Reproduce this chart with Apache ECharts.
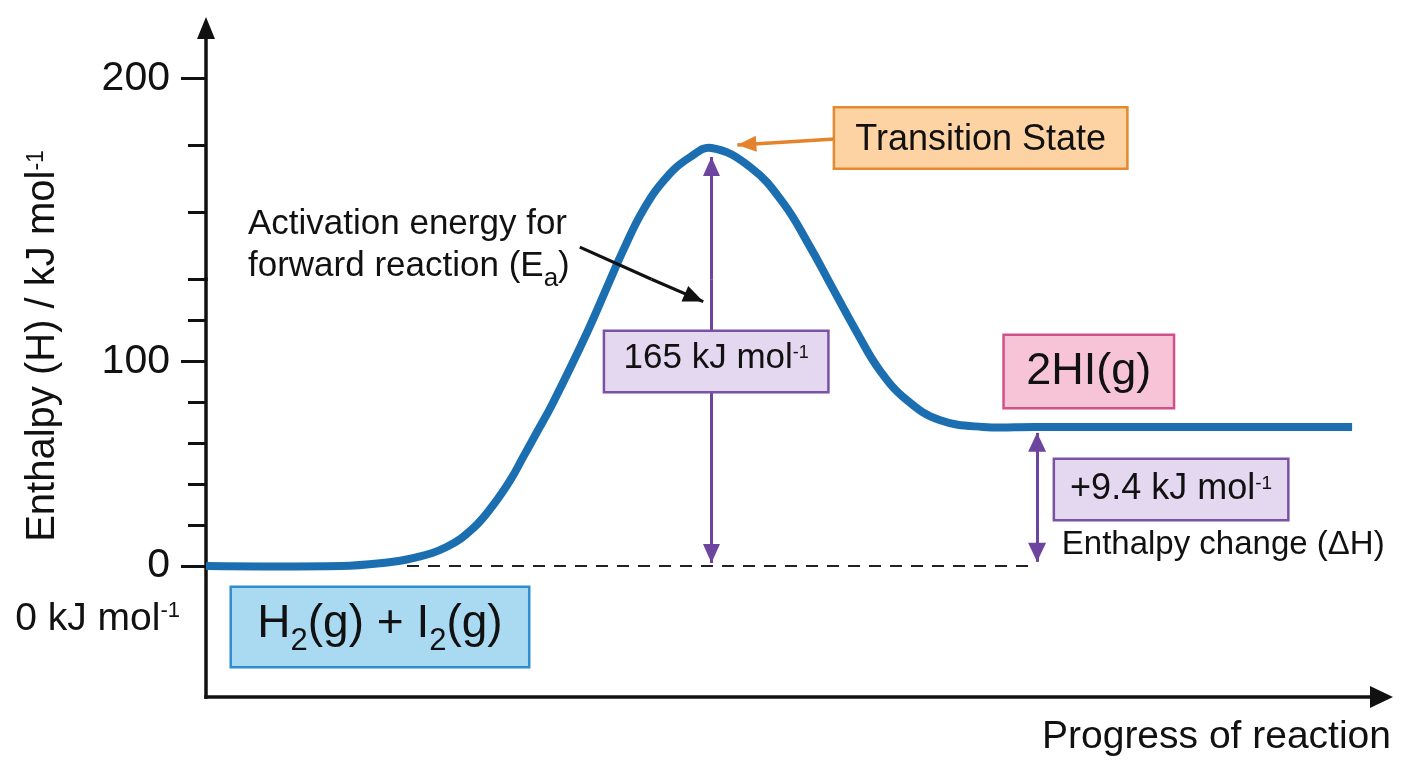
<!DOCTYPE html>
<html>
<head>
<meta charset="utf-8">
<script src="https://cdn.jsdelivr.net/npm/echarts@6/dist/echarts.min.js"></script>
<style>
html,body{margin:0;padding:0;background:#ffffff;}
#c{width:1408px;height:768px;}
</style>
</head>
<body>
<div id="c"></div>
<script>
// ===================== DATA =====================
// Reaction progress (arbitrary 0-100 scale) and enthalpy on the drawn axis (kJ/mol)
const progress = [0, 11.5, 14.8, 17.6, 20.5, 22.7, 24.4, 25.9, 27.0, 28.1, 29.5, 32.4, 34.4, 35.5, 37.2, 39.2, 41.2, 43.0, 46.3, 49.1, 51.4, 52.9, 55.4, 57.3, 59.6, 62.4, 66.1, 70.4, 97.5];
const enthalpy = [0, 0, 1.3, 3.8, 9.4, 18.3, 29.5, 42.0, 53.4, 64.8, 79.5, 113.8, 140, 148.7, 160.7, 170.5, 176.5, 179.2, 173.5, 162.8, 149.6, 140, 113.8, 95.7, 81.1, 71.3, 67.9, 67.9, 67.9];

// The drawn enthalpy axis is not uniform: 0-140 and 140-200 use different spacings,
// so it is drawn as two stacked axis segments meeting at axisSeam.
const axisSeam = 140;
const lowerAxisRange = [-64, 140];
const upperAxisRange = [140, 215];
const progressRange = [0, 100];

// Tick marks and tick labels
const minorTicksLower = [20, 40, 60, 80, 120, 140];
const majorTicksLower = [0, 100];
const minorTicksUpper = [160, 180];
const majorTicksUpper = [200];
const tickLabelsLower = [0, 100];
const tickLabelsUpper = [200];
const zeroLevelLabelValue = -26;          // "0 kJ mol-1" note below the 0 tick

// Annotation arrows (data coordinates)
const eaArrowX = 43.0, eaArrowFrom = 1.5, eaArrowTo = 176.5;      // 165 kJ/mol double arrow
const dhArrowX = 70.7, dhArrowFrom = 2.0, dhArrowTo = 65.0;      // +9.4 kJ/mol double arrow
const dashedLevel = 0, dashedFrom = 17.1, dashedTo = 70.7;        // reactant level reference line
const eaPointerFrom = [31.8, 149.6], eaPointerSeam = [37.9, 140], eaPointerTo = [42.3, 129.1]; // "Activation energy" pointer
const tsPointerFrom = [53.5, 181.9], tsPointerTo = [45.2, 180.1];  // "Transition State" pointer

// Annotation label anchors (data coordinates)
const tsLabelAt = [65.9, 182.2];
const eaValueLabelAt = [43.4, 99.9];
const productLabelAt = [75.1, 95.0];
const dhValueLabelAt = [82.1, 37.4];
const reactantLabelAt = [14.8, -29.8];
const dhTextAt = [72.8, 10.1];
const eaTextAt = [3.57, 150.1];

// ===================== STYLE =====================
const FONT = 'Liberation Sans';
const INK = '#111111';
const BLUE = '#1b6fb1';
const PURPLE = '#6d459e';
const ORANGE = '#e4832b';

const chart = echarts.init(document.getElementById('c'), null, {renderer: 'canvas'});
const curve = progress.map((x, i) => [x, enthalpy[i]]);

const noBorder = {textBorderWidth: 0, textBorderColor: 'transparent', textShadowBlur: 0};
const tok = (o) => Object.assign({fontFamily: FONT, color: INK}, noBorder, o);

const axisLabelRich = {
  t: tok({fontSize: 41, padding: [0, 10, 0, 0]}),
  u: tok({fontSize: 39, lineHeight: 44}),
  s: tok({fontSize: 22, height: 27.4, lineHeight: 27.4, verticalAlign: 'top'})
};
const axisLabelFormatter = v => (v === zeroLevelLabelValue ? '{u|0 kJ mol}{s|-1}' : '{t|' + v + '}');

function yAxisDef(gridIndex, range, ticks, tickLen, labels, showLine, arrow) {
  return {
    type: 'value', gridIndex: gridIndex, min: range[0], max: range[1],
    position: 'left', offset: 0,
    axisLine: {
      show: showLine, onZero: false,
      symbol: arrow ? ['none', 'triangle'] : 'none', symbolSize: [18, 22],
      lineStyle: {color: INK, width: 3.5, cap: 'square'}
    },
    axisTick: {show: true, customValues: ticks, length: tickLen, inside: false, lineStyle: {color: INK, width: 3}},
    axisLabel: labels ? {
      show: true, customValues: labels, margin: 26, hideOverlap: false, color: INK,
      formatter: axisLabelFormatter, rich: axisLabelRich
    } : {show: false},
    splitLine: {show: false}, splitArea: {show: false}
  };
}

function arrowEnd(coord, size) {
  return {coord: coord, symbol: 'triangle', symbolSize: size, symbolOffset: [0, size[1] / 2]};
}
function plainEnd(coord, lineStyle) {
  const o = {coord: coord, symbol: 'none'};
  if (lineStyle) o.lineStyle = lineStyle;
  return o;
}

function boxLabel(formatter, w, h, padTop, padBottom, fill, stroke, rich) {
  return Object.assign({
    show: true, position: 'inside', formatter: formatter, color: INK, opacity: 1,
    width: w, height: h - padTop - padBottom, padding: [padTop, 0, padBottom, 0],
    align: 'center', verticalAlign: 'middle', overflow: 'none',
    backgroundColor: fill, borderColor: stroke, borderWidth: 2.5, rich: rich
  }, noBorder);
}
function textLabel(formatter, rich) {
  return Object.assign({
    show: true, position: 'inside', formatter: formatter, color: INK, opacity: 1,
    align: 'left', verticalAlign: 'middle', overflow: 'none', rich: rich
  }, noBorder);
}
const m = (size, lh) => tok({fontSize: size, lineHeight: lh});
const sup = (size, h) => tok({fontSize: size, height: h, lineHeight: h, verticalAlign: 'top'});
const sub = (size, h) => tok({fontSize: size, height: h, lineHeight: h, verticalAlign: 'bottom'});

const markLineBase = {
  silent: true, animation: false, symbol: ['none', 'none'],
  label: {show: false}, emphasis: {disabled: true}
};

// Enthalpy profile: each point is placed through the axis segment it belongs to,
// then the whole profile is drawn as one smooth stroke.
const profileSeries = {
  name: 'Enthalpy', type: 'custom', coordinateSystem: 'cartesian2d',
  xAxisIndex: 0, yAxisIndex: 0, data: curve, encode: {x: 0, y: 1},
  z: 2, silent: true, clip: false,
  renderItem: function (params, api) {
    if (params.dataIndex !== curve.length - 1) return null;
    const pts = curve.map(p => (p[1] <= axisSeam
      ? api.coord(p)
      : chart.convertToPixel({xAxisIndex: 1, yAxisIndex: 2}, p)));
    return {
      type: 'polyline', silent: true,
      shape: {points: pts, smooth: 0.42},
      style: {stroke: BLUE, lineWidth: 8, fill: 'none', lineJoin: 'round'}
    };
  }
};

const series = [
  { // dashed reactant-level reference line
    type: 'line', xAxisIndex: 0, yAxisIndex: 0, data: [], z: 1, silent: true,
    markLine: Object.assign({}, markLineBase, {
      lineStyle: {color: '#222222', width: 2, type: [12, 9]},
      data: [[plainEnd([dashedFrom, dashedLevel]), plainEnd([dashedTo, dashedLevel])]]
    })
  },
  profileSeries,
  { // arrows on lower segment
    type: 'line', xAxisIndex: 0, yAxisIndex: 0, data: [], z: 3, silent: true,
    markLine: Object.assign({}, markLineBase, {
      lineStyle: {color: PURPLE, width: 3, type: 'solid'},
      data: [
        [arrowEnd([eaArrowX, eaArrowFrom], [17, 19]), plainEnd([eaArrowX, axisSeam])],
        [arrowEnd([dhArrowX, dhArrowFrom], [18, 19]), arrowEnd([dhArrowX, dhArrowTo], [18, 19])],
        [plainEnd(eaPointerSeam, {color: INK, width: 3.2, type: 'solid'}), arrowEnd(eaPointerTo, [17, 20])]
      ]
    })
  },
  { // arrows on upper segment
    type: 'line', xAxisIndex: 1, yAxisIndex: 2, data: [], z: 3, silent: true,
    markLine: Object.assign({}, markLineBase, {
      lineStyle: {color: PURPLE, width: 3, type: 'solid'},
      data: [
        [plainEnd([eaArrowX, axisSeam]), arrowEnd([eaArrowX, eaArrowTo], [17, 19])],
        [plainEnd(eaPointerFrom, {color: INK, width: 3.2, type: 'solid'}), plainEnd(eaPointerSeam)],
        [plainEnd(tsPointerFrom, {color: ORANGE, width: 3.5, type: 'solid'}), arrowEnd(tsPointerTo, [16, 19])]
      ]
    })
  },
  { // labels anchored on the lower segment
    type: 'scatter', xAxisIndex: 0, yAxisIndex: 0, z: 5, silent: true,
    symbolSize: 1, itemStyle: {color: 'transparent'},
    data: [
      {value: eaValueLabelAt, label: boxLabel('{m|165 kJ mol}{s|-1}', 222, 59, 0, 6, '#e4d7f0', '#7b51a5',
        {m: m(35, 53), s: sup(18, 42.4)})},
      {value: dhValueLabelAt, label: boxLabel('{m|+9.4 kJ mol}{s|-1}', 232, 59, 0, 0, '#e4d7f0', '#7b51a5',
        {m: m(36, 59), s: sup(19, 48.4)})},
      {value: productLabelAt, label: boxLabel('{m|2HI(g)}', 168, 71, 0, 0, '#f7c4d7', '#d0508a',
        {m: m(45, 71)})},
      {value: reactantLabelAt, label: boxLabel('{m|H}{d|2}{m|(g) + I}{d|2}{m|(g)}', 296, 78, 0, 6, '#a9daf2', '#2f8ecf',
        {m: m(46, 72), d: sub(31, 37.6)})},
      {value: dhTextAt, label: textLabel('{m|Enthalpy change (\u0394H)}', {m: m(33, 40)})}
    ]
  },
  { // labels anchored on the upper segment
    type: 'scatter', xAxisIndex: 1, yAxisIndex: 2, z: 5, silent: true,
    symbolSize: 1, itemStyle: {color: 'transparent'},
    data: [
      {value: tsLabelAt, label: boxLabel('{m|Transition State}', 291, 59, 4, 0, '#fdd3a3', '#e5892f',
        {m: m(36, 55)})},
      {value: eaTextAt, label: textLabel('{m|Activation energy for}\n{m|forward reaction (E}{d|a}{m|)}',
        {m: m(35, 41.5), d: sub(26, 15.3)})}
    ]
  }
];

const option = {
  animation: false,
  backgroundColor: '#ffffff',
  textStyle: {fontFamily: FONT, color: INK},
  grid: [
    {left: 206, right: 26.5, top: 279.3, bottom: 71, containLabel: false, outerBoundsMode: 'none'},
    {left: 206, right: 26.5, top: 28, bottom: 488.7, containLabel: false, outerBoundsMode: 'none'}
  ],
  xAxis: [
    {
      type: 'value', gridIndex: 0, min: progressRange[0], max: progressRange[1],
      axisLine: {show: true, onZero: false, symbol: ['none', 'triangle'], symbolSize: [22, 23],
        lineStyle: {color: INK, width: 3.5, cap: 'square'}},
      axisTick: {show: false}, axisLabel: {show: false}, splitLine: {show: false},
      name: 'Progress of reaction', nameLocation: 'end', nameGap: 9.5,
      nameTextStyle: {fontSize: 39, fontFamily: FONT, color: INK, align: 'right', verticalAlign: 'top',
        lineHeight: 39, padding: [21, 0, 0, 0]}
    },
    {type: 'value', gridIndex: 1, min: progressRange[0], max: progressRange[1], show: false}
  ],
  yAxis: [
    yAxisDef(0, lowerAxisRange, minorTicksLower, 18, [zeroLevelLabelValue].concat(tickLabelsLower), true, false),
    yAxisDef(0, lowerAxisRange, majorTicksLower, 25, null, false, false),
    yAxisDef(1, upperAxisRange, minorTicksUpper, 18, tickLabelsUpper, true, true),
    yAxisDef(1, upperAxisRange, majorTicksUpper, 25, null, false, false)
  ],
  graphic: [{
    type: 'text', x: 42.5, y: 346, rotation: Math.PI / 2, silent: true,
    style: {
      text: '{m|Enthalpy (H) / kJ mol}{s|-1}',
      align: 'center', verticalAlign: 'middle', fill: INK,
      rich: {
        m: {fontSize: 40, lineHeight: 48, fontFamily: FONT, fill: INK},
        s: {fontSize: 23, height: 35.4, lineHeight: 35.4, verticalAlign: 'top', fontFamily: FONT, fill: INK}
      }
    }
  }],
  series: series
};

chart.setOption(option);
</script>
</body>
</html>
